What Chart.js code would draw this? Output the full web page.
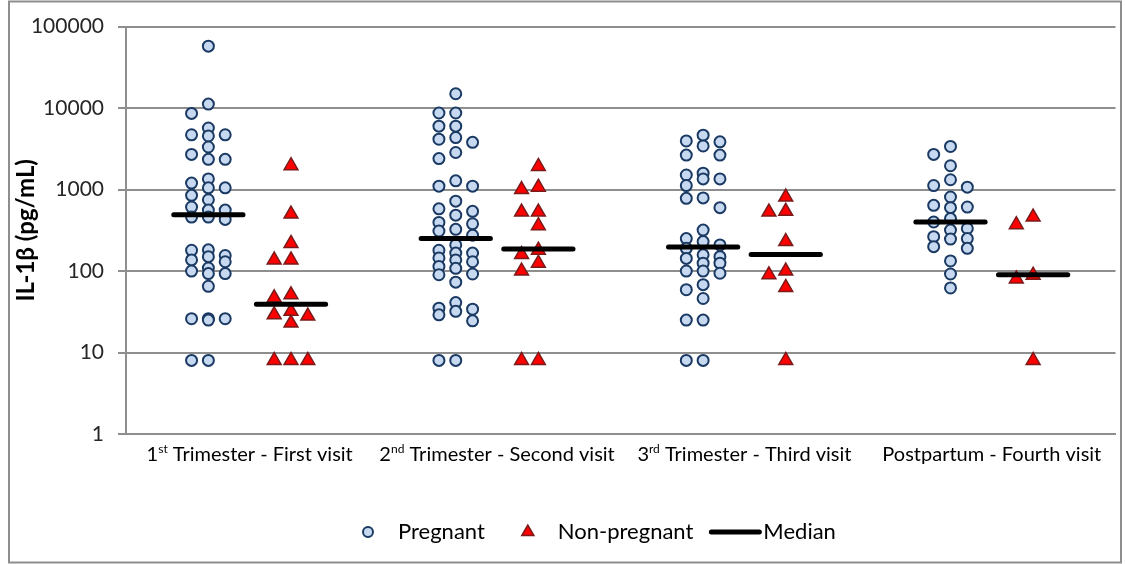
<!DOCTYPE html>
<html lang="en">
<head>
  <meta charset="UTF-8">
  <title>IL-1β (pg/mL)</title>
  <script src="https://cdn.jsdelivr.net/npm/chart.js"></script>
  <style>
    body { margin: 0; background: #fff; }
  </style>
</head>
<body>
  <canvas id="chart" width="1125" height="564"></canvas>

  <script>
    // categories on the x axis, y ticks (log scale)
    const categories = ['1st Trimester - First visit', '2nd Trimester - Second visit', '3rd Trimester - Third visit', 'Postpartum - Fourth visit'];
    const yTicks = [1, 10, 100, 1000, 10000, 100000];

    // IL-1β values (pg/mL)
    const pregnant1 = [57500, 11200, 8600, 5700, 4550, 4700, 4700, 3330, 2350, 2350, 2700, 1350, 1050, 1050, 1200, 850, 750, 610, 560, 460, 460, 560, 430,
      180, 182, 137, 150, 130, 155, 93, 109, 93, 100, 65, 26, 26, 26, 25, 8, 8];
    const pregnant2 = [15000, 8700, 8700, 6000, 6000, 3800, 4150, 4350, 2850, 2400, 1100, 1280, 1100, 720, 540, 580, 485, 380, 395, 310, 325, 275,
      180, 145, 114, 209, 166, 137, 108, 90, 166, 130, 92, 73, 32, 41, 34, 29, 35, 24.5, 8, 8];
    const pregnant3 = [4650, 3950, 3850, 3430, 2650, 2650, 1350, 1590, 1350, 1120, 1510, 780, 790, 600, 318, 250, 230, 190, 158, 125, 209,
      150, 125, 100, 100, 143, 94, 59, 68, 46, 25, 25, 8, 8];
    const pregnant4 = [3380, 2700, 1960, 1320, 1070, 1120, 810, 610, 600, 640, 400, 440, 318, 247, 333, 264, 199, 250, 190, 133, 92, 62];

    const nonPregnant1 = [1960, 500, 218, 137, 137, 51, 47, 28, 29, 23, 32, 8, 8, 8];
    const nonPregnant2 = [1920, 1000, 1070, 530, 530, 360, 160, 180, 125, 100, 8, 8];
    const nonPregnant3 = [810, 530, 540, 230, 90, 100, 63, 8];
    const nonPregnant4 = [460, 370, 80, 89, 8];

    const pregnantMedian = [490, 250, 197, 400];
    const nonPregnantMedian = [39, 187, 160, 90];

    const pregnantAll = [pregnant1, pregnant2, pregnant3, pregnant4];
    const nonPregnantAll = [nonPregnant1, nonPregnant2, nonPregnant3, nonPregnant4];

    // horizontal placement inside a category (in category units)
    const GROUP_OFF = 0.167;
    const COL_STEP = 0.068;
    const MEDIAN_HALF = 0.14;

    // simple 3-column swarm so close values don't sit on each other
    function swarm(values, center) {
      const placed = { '-1': [], '0': [], '1': [] };
      return values.slice().sort((a, b) => b - a).map(v => {
        const lv = Math.log10(v);
        let best = 0, bestGap = -1;
        for (const c of [0, -1, 1]) {
          const gap = Math.min(9, ...placed[c].map(p => Math.abs(p - lv)));
          if (gap >= 0.13) { best = c; break; }
          if (gap > bestGap) { best = c; bestGap = gap; }
        }
        placed[best].push(lv);
        return { x: center + best * COL_STEP, y: v };
      });
    }

    const pregnantPts = pregnantAll.flatMap((vals, i) => swarm(vals, i + 1 - GROUP_OFF));
    const nonPregnantPts = nonPregnantAll.flatMap((vals, i) => swarm(vals, i + 1 + GROUP_OFF));

    const medianPts = [];
    categories.forEach((c, i) => {
      const pc = i + 1 - GROUP_OFF, nc = i + 1 + GROUP_OFF;
      medianPts.push({ x: pc - MEDIAN_HALF, y: pregnantMedian[i] }, { x: pc + MEDIAN_HALF, y: pregnantMedian[i] }, { x: i + 1, y: null });
      medianPts.push({ x: nc - MEDIAN_HALF, y: nonPregnantMedian[i] }, { x: nc + MEDIAN_HALF, y: nonPregnantMedian[i] }, { x: i + 1.5, y: null });
    });

    const GRID = '#8e8e8e';
    const FONT = 'Lato';

    // outer frame
    const framePlugin = {
      id: 'frame',
      beforeDraw(chart) {
        const ctx = chart.ctx;
        ctx.save();
        ctx.fillStyle = '#fff';
        ctx.fillRect(0, 0, chart.width, chart.height);
        ctx.strokeStyle = GRID;
        ctx.lineWidth = 2;
        ctx.strokeRect(9, 1.5, 1112, 561);
        ctx.restore();
      }
    };

    // x labels with superscript ordinals
    const xLabelPlugin = {
      id: 'xLabels',
      afterDraw(chart) {
        const ctx = chart.ctx;
        const xs = chart.scales.x;
        const y = chart.chartArea.bottom + 21;
        ctx.save();
        ctx.fillStyle = '#000';
        ctx.textBaseline = 'middle';
        categories.forEach((label, i) => {
          const m = label.match(/^(\d)(st|nd|rd)(.*)$/);
          const parts = m ? [[m[1], 20, 0], [m[2], 12, -6], [m[3], 20, 0]] : [[label, 20, 0]];
          let w = 0;
          parts.forEach(p => { ctx.font = p[1] + 'px ' + FONT; w += ctx.measureText(p[0]).width; });
          let x = xs.getPixelForValue(i + 1) - w / 2;
          ctx.textAlign = 'left';
          parts.forEach(p => {
            ctx.font = p[1] + 'px ' + FONT;
            ctx.fillText(p[0], x, y + p[2]);
            x += ctx.measureText(p[0]).width;
          });
        });
        ctx.restore();
      }
    };

    // legend row at the bottom
    const legendPlugin = {
      id: 'bottomLegend',
      afterDraw(chart) {
        const ctx = chart.ctx;
        const ds = chart.data.datasets;
        const y = 532;
        ctx.save();
        ctx.font = '22px ' + FONT;
        ctx.textBaseline = 'middle';
        ctx.textAlign = 'left';
        let x = 368;
        [ds[1], ds[2]].forEach(d => {
          ctx.fillStyle = d.pointBackgroundColor;
          ctx.strokeStyle = d.pointBorderColor;
          ctx.lineWidth = d.pointBorderWidth;
          Chart.helpers.drawPoint(ctx, { pointStyle: d.pointStyle, radius: d.pointStyle === 'circle' ? 5 : 7, rotation: 0, borderWidth: d.pointBorderWidth }, x, y);
          ctx.fillStyle = '#000';
          ctx.fillText(d.label, x + 30, y);
          x += 30 + ctx.measureText(d.label).width + 43;
        });
        x -= 25;
        ctx.strokeStyle = ds[0].borderColor;
        ctx.lineWidth = ds[0].borderWidth;
        ctx.lineCap = 'round';
        ctx.beginPath();
        ctx.moveTo(x, y);
        ctx.lineTo(x + 48, y);
        ctx.stroke();
        ctx.fillStyle = '#000';
        ctx.fillText(ds[0].label, x + 52, y);
        ctx.restore();
      }
    };

    new Chart(document.getElementById('chart'), {
      type: 'scatter',
      data: {
        datasets: [
          {
            label: 'Median',
            data: medianPts,
            showLine: true,
            spanGaps: false,
            borderColor: '#000',
            borderWidth: 5,
            borderCapStyle: 'round',
            pointRadius: 0
          },
          {
            label: 'Pregnant',
            data: pregnantPts,
            pointStyle: 'circle',
            pointRadius: 5.5,
            pointBorderWidth: 2,
            pointBackgroundColor: '#c6d9f0',
            pointBorderColor: '#1b3a63'
          },
          {
            label: 'Non-pregnant',
            data: nonPregnantPts,
            pointStyle: 'triangle',
            pointRadius: 8,
            pointBorderWidth: 1.5,
            pointBackgroundColor: '#ff0000',
            pointBorderColor: '#7a1a1a'
          }
        ]
      },
      options: {
        responsive: false,
        animation: false,
        layout: { padding: { top: 18, right: 7, left: 0, bottom: 0 } },
        plugins: {
          legend: { display: false },
          tooltip: { enabled: false }
        },
        scales: {
          x: {
            type: 'linear',
            min: 0.5,
            max: 4.5,
            ticks: { display: false },
            grid: { display: false },
            border: { display: true, color: GRID, width: 2 },
            afterFit: s => { s.height = 130; }
          },
          y: {
            type: 'logarithmic',
            min: 1,
            max: 100000,
            afterBuildTicks: s => { s.ticks = yTicks.map(v => ({ value: v })); },
            ticks: {
              callback: v => String(v),
              font: { family: FONT, size: 21 },
              color: '#262626',
              padding: 14
            },
            grid: { color: GRID, lineWidth: 2, tickLength: 8 },
            border: { display: true, color: GRID, width: 2 },
            title: {
              display: true,
              text: 'IL-1β (pg/mL)',
              font: { family: FONT, size: 24, weight: 'bold' },
              color: '#000',
              padding: { top: 12, bottom: 0 }
            },
            afterFit: s => { s.width = 126; }
          }
        }
      },
      plugins: [framePlugin, xLabelPlugin, legendPlugin]
    });
  </script>
</body>
</html>
